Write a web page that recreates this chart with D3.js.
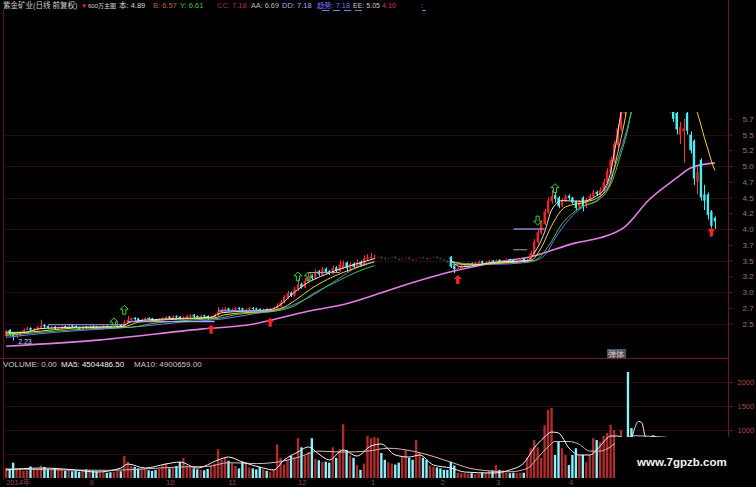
<!DOCTYPE html>
<html><head><meta charset="utf-8">
<script src="https://cdnjs.cloudflare.com/ajax/libs/d3/7.8.5/d3.min.js"></script>
<style>body{margin:0;background:#000;overflow:hidden}svg{display:block}text{font-family:'Liberation Sans','Noto Sans CJK SC',sans-serif}</style>
</head><body><svg id="c" width="756" height="487"></svg>
<script>
// ---------------- DATA ----------------
const openP=[2.30,2.40,2.34,2.29,2.31,2.35,2.40,2.43,2.39,2.40,
2.43,2.48,2.46,2.42,2.45,2.41,2.42,2.46,2.43,2.47,
2.46,2.43,2.41,2.45,2.42,2.46,2.45,2.41,2.42,2.46,
2.44,2.42,2.44,2.48,2.46,2.51,2.55,2.59,2.58,2.54,
2.55,2.59,2.58,2.56,2.53,2.55,2.57,2.61,2.58,2.62,
2.61,2.57,2.58,2.61,2.64,2.62,2.59,2.63,2.62,2.58,
2.59,2.63,2.68,2.71,2.74,2.70,2.71,2.75,2.74,2.70,
2.71,2.75,2.74,2.73,2.69,2.73,2.70,2.72,2.74,2.77,
2.83,2.91,2.99,2.94,3.04,3.13,3.07,3.17,3.25,3.21,
3.33,3.27,3.37,3.33,3.29,3.39,3.33,3.38,3.47,3.37,
3.45,3.39,3.48,3.42,3.52,3.54,3.53,3.54,3.56,3.54,
3.52,3.54,3.56,3.53,3.51,3.54,3.55,3.52,3.50,3.53,
3.55,3.54,3.52,3.55,3.56,3.54,3.52,3.50,3.56,3.42,
3.35,3.37,3.40,3.42,3.46,3.43,3.45,3.49,3.45,3.46,
3.50,3.47,3.51,3.46,3.48,3.52,3.51,3.47,3.49,3.53,
3.48,3.50,3.61,3.79,3.93,4.08,4.26,4.44,4.54,4.50,
4.37,4.45,4.53,4.50,4.44,4.34,4.50,4.37,4.46,4.52,
4.59,4.54,4.61,4.74,4.90,5.08,5.33,5.58,5.84,6.32,
6.50,6.45,6.68,6.92,7.02,7.15,7.05,6.88,6.62,6.42,
6.22,6.02,5.95,5.84,5.50,5.55,5.84,5.50,5.40,4.75,
5.10,4.55,4.55,4.28,4.18];
const highP=[2.40,2.41,2.35,2.34,2.38,2.42,2.45,2.44,2.43,2.46,
2.56,2.49,2.47,2.46,2.46,2.45,2.47,2.47,2.48,2.48,
2.47,2.45,2.46,2.46,2.47,2.47,2.46,2.45,2.47,2.47,
2.46,2.47,2.52,2.49,2.55,2.62,2.60,2.60,2.59,2.58,
2.60,2.60,2.59,2.57,2.58,2.60,2.62,2.62,2.63,2.63,
2.62,2.61,2.64,2.65,2.65,2.63,2.64,2.64,2.63,2.62,
2.66,2.76,2.75,2.76,2.75,2.74,2.76,2.76,2.75,2.74,
2.76,2.76,2.75,2.74,2.74,2.74,2.75,2.77,2.82,2.87,
2.95,3.02,3.01,3.08,3.20,3.15,3.22,3.30,3.28,3.36,
3.35,3.40,3.39,3.35,3.42,3.41,3.50,3.50,3.48,3.47,
3.47,3.52,3.50,3.58,3.60,3.62,3.59,3.57,3.57,3.56,
3.55,3.57,3.57,3.54,3.55,3.56,3.56,3.53,3.54,3.56,
3.56,3.55,3.56,3.58,3.57,3.55,3.53,3.51,3.57,3.44,
3.40,3.43,3.45,3.47,3.47,3.48,3.50,3.50,3.49,3.51,
3.51,3.52,3.52,3.51,3.53,3.53,3.52,3.52,3.54,3.54,
3.53,3.65,3.84,3.99,4.14,4.32,4.50,4.62,4.58,4.52,
4.49,4.55,4.55,4.51,4.45,4.46,4.52,4.49,4.56,4.62,
4.61,4.66,4.80,4.96,5.15,5.40,5.66,5.92,6.18,6.45,
6.60,6.80,7.00,7.10,7.18,7.18,7.10,6.90,6.70,6.50,
6.30,6.10,6.00,5.90,5.70,5.75,5.90,5.55,5.42,5.00,
5.12,4.70,4.58,4.30,4.20];
const lowP=[2.28,2.30,2.23,2.27,2.30,2.34,2.39,2.38,2.37,2.39,
2.42,2.43,2.41,2.41,2.40,2.40,2.41,2.42,2.42,2.43,
2.42,2.40,2.40,2.41,2.41,2.42,2.40,2.40,2.41,2.42,
2.41,2.41,2.43,2.44,2.45,2.50,2.53,2.55,2.53,2.53,
2.54,2.55,2.53,2.52,2.52,2.54,2.56,2.57,2.57,2.58,
2.56,2.56,2.57,2.60,2.59,2.58,2.58,2.59,2.55,2.56,
2.58,2.62,2.67,2.69,2.69,2.69,2.70,2.71,2.69,2.69,
2.70,2.71,2.70,2.68,2.68,2.69,2.68,2.71,2.72,2.76,
2.82,2.89,2.92,2.93,3.02,3.05,3.06,3.15,3.19,3.20,
3.25,3.26,3.29,3.27,3.28,3.31,3.32,3.36,3.32,3.35,
3.37,3.38,3.40,3.41,3.50,3.52,3.52,3.53,3.52,3.51,
3.51,3.53,3.52,3.50,3.50,3.53,3.51,3.49,3.49,3.52,
3.53,3.51,3.51,3.54,3.53,3.51,3.49,3.46,3.38,3.30,
3.33,3.36,3.39,3.41,3.42,3.42,3.44,3.44,3.44,3.45,
3.46,3.46,3.45,3.45,3.47,3.48,3.46,3.46,3.48,3.46,
3.46,3.49,3.60,3.77,3.91,4.06,4.24,4.40,4.42,4.33,
4.35,4.43,4.46,4.40,4.30,4.32,4.28,4.33,4.44,4.50,
4.52,4.52,4.60,4.72,4.88,5.05,5.30,5.55,5.80,6.10,
6.30,6.40,6.60,6.85,6.95,6.90,6.80,6.50,6.30,6.10,
5.95,5.85,5.70,5.50,5.35,5.05,5.50,5.20,4.70,4.55,
4.45,4.30,4.15,3.88,4.00];
const closeP=[2.38,2.33,2.30,2.32,2.36,2.40,2.42,2.40,2.41,2.44,
2.47,2.45,2.43,2.44,2.42,2.43,2.45,2.44,2.46,2.45,
2.43,2.42,2.44,2.43,2.45,2.44,2.42,2.43,2.45,2.44,
2.43,2.45,2.47,2.46,2.52,2.56,2.58,2.57,2.55,2.56,
2.58,2.57,2.55,2.54,2.56,2.58,2.60,2.59,2.61,2.60,
2.58,2.59,2.62,2.63,2.61,2.60,2.62,2.61,2.59,2.60,
2.64,2.69,2.72,2.73,2.71,2.72,2.74,2.73,2.71,2.72,
2.74,2.73,2.72,2.70,2.72,2.71,2.73,2.75,2.78,2.84,
2.92,2.98,2.95,3.05,3.12,3.08,3.18,3.24,3.22,3.32,
3.28,3.36,3.32,3.30,3.38,3.34,3.44,3.46,3.38,3.44,
3.40,3.47,3.43,3.53,3.55,3.56,3.55,3.56,3.53,3.52,
3.54,3.56,3.53,3.51,3.54,3.55,3.52,3.50,3.53,3.55,
3.54,3.52,3.55,3.56,3.54,3.52,3.50,3.47,3.40,3.36,
3.38,3.41,3.43,3.45,3.44,3.46,3.48,3.46,3.47,3.49,
3.48,3.50,3.47,3.49,3.51,3.50,3.48,3.50,3.52,3.49,
3.51,3.62,3.80,3.95,4.10,4.28,4.45,4.52,4.48,4.36,
4.46,4.52,4.49,4.42,4.33,4.44,4.36,4.47,4.53,4.58,
4.55,4.62,4.75,4.92,5.10,5.35,5.60,5.85,6.10,6.22,
6.42,6.70,6.90,7.00,7.10,7.05,6.85,6.60,6.40,6.20,
6.00,5.90,5.75,5.58,5.62,5.60,5.56,5.25,4.80,4.90,
4.50,4.45,4.22,4.05,4.12];
const volume=[210,180,320,170,200,150,160,240,190,170,
260,230,180,160,210,190,170,150,160,140,
150,130,160,180,170,150,140,120,130,110,
120,130,150,140,460,340,250,230,200,190,
180,160,150,170,190,260,310,200,230,250,
330,420,260,230,200,180,170,160,190,260,
300,600,380,420,360,310,250,200,340,330,
220,200,180,230,190,150,130,170,700,420,
280,380,460,430,830,640,470,540,830,400,
370,330,340,320,640,420,600,1120,580,470,
420,270,170,300,880,830,850,840,520,380,
330,300,280,320,440,580,420,380,790,520,
420,380,260,240,220,200,170,170,340,260,
110,100,100,90,100,80,90,110,100,150,
160,270,170,160,110,100,110,100,110,110,
420,620,790,640,420,1100,1420,1460,480,750,
620,480,270,480,620,480,480,330,480,830,
790,750,880,940,1110,1000,800,1000,850,2210,
1040,760,700,640,820,680,600,720,650,580,
700,620,760,810,600,700,720,780,820,700,
760,640,780,820,600];
// candles whose display is faded in the picture
const fadedFrom=107, fadedTo=127;
// moving-average style lines: [index, value]; null = gap
const maWhite=[[0,2.36],[5,2.36],[10,2.42],[20,2.44],[33,2.45],[36,2.53],[45,2.57],[59,2.60],[62,2.67],[76,2.72],[79,2.80],[82,2.95],[86,3.12],[92,3.28],[98,3.40],[103,3.48],[106,3.53],null,
[128,3.50],[131,3.40],[140,3.47],[150,3.50],[152,3.62],[155,3.95],[157,4.30],[160,4.45],[166,4.44],[170,4.53],[172,4.62],[174,4.90],[175,5.20],[176,5.50],[177,5.85],[178,6.10]];
const maYellow=[[0,2.33],[10,2.38],[20,2.43],[34,2.45],[38,2.52],[50,2.57],[60,2.59],[63,2.64],[77,2.71],[80,2.76],[84,2.90],[88,3.06],[94,3.24],[100,3.37],[106,3.48],null,
[128,3.49],[133,3.43],[142,3.46],[151,3.50],[154,3.70],[157,4.05],[161,4.35],[167,4.43],[171,4.52],[174,4.75],[176,5.20],[178,5.70],[179,6.00],[183,6.60],[188,6.80],[194,6.40],[197,6.10],[199,5.84],[201,5.45],[202,5.27],[203,5.08],[204,4.93]];
const maGreen=[[0,2.31],[12,2.37],[25,2.42],[36,2.44],[42,2.50],[55,2.56],[62,2.59],[66,2.64],[78,2.70],[83,2.78],[88,2.96],[95,3.16],[101,3.32],[106,3.42],null,
[128,3.48],[136,3.44],[146,3.47],[152,3.50],[156,3.72],[160,4.08],[165,4.33],[171,4.48],[174,4.70],[177,5.20],[179,5.60],[180,5.90]];
const maBlue=[[0,2.28],[14,2.36],[30,2.42],[40,2.46],[50,2.52],[62,2.57],[72,2.66],[78,2.71],[86,2.88],[94,3.15],[102,3.42],[106,3.48],null,
[128,3.44],[140,3.44],[150,3.47],[155,3.58],[158,3.85],[162,4.15],[166,4.35],[171,4.50],[175,4.95],[178,5.45],[180,5.84],[181,6.00]];
const maLong=[[0,2.14],[27,2.24],[56,2.41],[70,2.48],[85,2.67],[99,2.83],[113,3.08],[128,3.32],[142,3.48],[151,3.56],[164,3.78],[171,3.86],[178,4.03],[185,4.46],[193,4.81],[197,4.97],[204,5.05]];
// flat level segments: [fromIndex, toIndex, value]
const levelLav=[[12,34,2.48],[35,60,2.53],[61,77,2.70],[146,155,4.0]];
const levelGray=[[146,150,3.67],[87,96,3.31]];
// signal markers [index, value]
const greenUp=[[31,2.51],[34,2.71],[84,3.24],[87,3.24],[158,4.64]];
const greenDown=[[153,4.14]];
const redUp=[[59,2.40],[76,2.51],[130,3.19],[203,3.95]];
// volume averages
const volMA5=[[0,167],[10,208],[20,167],[26,125],[33,208],[35,292],[40,208],[46,292],[50,333],[55,208],[61,375],[64,437],[68,333],[74,208],[77,167],[80,375],[84,542],[87,646],[90,500],[93,375],[97,583],[101,458],[105,667],[108,708],[112,479],[116,437],[119,479],[123,271],[128,208],[132,125],[140,104],[145,167],[149,312],[152,625],[155,854],[157,958],[159,938],[162,625],[165,479],[168,479],[170,583],[172,750],[174,875],[176,875],[178,833],[180,850],[181,1050],[182,1180],[183,1150],[184,850],[185,780],[186,880],[187,860],[188,760],[190,700]];
const volMA10=[[0,190],[15,170],[30,160],[40,190],[50,230],[58,240],[64,320],[72,300],[78,330],[84,430],[90,560],[97,540],[104,560],[110,620],[117,560],[122,470],[128,330],[135,180],[145,130],[150,200],[153,420],[156,650],[158,760],[162,760],[165,700],[168,560],[171,560],[174,650],[176,760],[178,830],[181,880],[185,870],[190,850]];
// axes
const tickIdx=[0,24,46,64,84,105,125,141,162];
const tickLabels=["2014年","9","10","11","12","1","2","3","4"];
const priceTicks=[5.75,5.5,5.25,5.0,4.75,4.5,4.25,4.0,3.75,3.5,3.25,3.0,2.75,2.5];
const priceTickLabels=["5.7","5.5","5.2","5.0","4.7","4.5","4.2","4.0","3.7","3.5","3.2","3.0","2.7","2.5"];
const priceGrid=[5.5,5.0,4.5,4.0,3.5,3.0,2.5];
const volTicks=[2000,1500,1000];
const volGrid=[2000,1500,1000,500];
const lowLabel="2.23";
const headerTexts=["紫金矿业(日线 前复权)","▼","600万主图","本: 4.89","B: 6.57","Y: 6.61","CC: 7.18","AA: 6.69","DD: 7.18","趋势: 7.18","EE: 5.05","4.10",":"];
const volHeader=["VOLUME: 0.00","MA5: 4504486.50","MA10: 4900659.00"];

// ---------------- DRAW ----------------
const N=closeP.length;
const svg=d3.select("#c");
svg.append("rect").attr("width",756).attr("height",487).attr("fill","#000");
const x=d3.scaleBand().domain(d3.range(N)).range([5,716]).paddingInner(0.32);
const xc=i=>x(i)+x.bandwidth()/2;
const yP=d3.scaleLinear().domain([2.5,5.0]).range([323.5,166]);
const yV=d3.scaleLinear().domain([0,1000]).range([478,430]);
const AX=728.5;
const gridC="#2c0909", axC="#6e1616";

const defs=svg.append("defs");
defs.append("clipPath").attr("id","cp").append("rect").attr("x",4).attr("y",112).attr("width",724).attr("height",246);
defs.append("clipPath").attr("id","cv").append("rect").attr("x",4).attr("y",359).attr("width",724).attr("height",121);

// grids
svg.append("g").selectAll("line").data(priceGrid).join("line")
  .attr("x1",4).attr("x2",AX).attr("y1",d=>Math.round(yP(d))+0.5).attr("y2",d=>Math.round(yP(d))+0.5)
  .attr("stroke",gridC);
svg.append("g").selectAll("line").data(volGrid).join("line")
  .attr("x1",4).attr("x2",AX).attr("y1",d=>Math.round(yV(d))+0.5).attr("y2",d=>Math.round(yV(d))+0.5)
  .attr("stroke",gridC);
// frame lines
svg.append("line").attr("x1",3.5).attr("x2",3.5).attr("y1",9).attr("y2",480).attr("stroke","#5e1212");
svg.append("line").attr("x1",0).attr("x2",AX).attr("y1",358.5).attr("y2",358.5).attr("stroke","#7a1818");
svg.append("line").attr("x1",AX).attr("x2",AX).attr("y1",0).attr("y2",480).attr("stroke",axC);

// price panel
const gp=svg.append("g").attr("clip-path","url(#cp)");
const line=d3.line().defined(d=>d!==null).x(d=>xc(d[0])).y(d=>yP(d[1])).curve(d3.curveMonotoneX);
gp.append("path").attr("d",line(maLong)).attr("fill","none").attr("stroke","#e47ee4").attr("stroke-width",1.6);

const candles=gp.append("g").selectAll("g").data(d3.range(N)).join("g")
  .attr("opacity",i=>(i>=fadedFrom&&i<=fadedTo)?0.28:1);
const up=i=>closeP[i]>=openP[i];
candles.append("line").attr("x1",i=>Math.round(xc(i))+0.5).attr("x2",i=>Math.round(xc(i))+0.5)
  .attr("y1",i=>yP(highP[i])).attr("y2",i=>yP(lowP[i]))
  .attr("stroke",i=>up(i)?"#ff3434":"#46eef2");
candles.append("rect").attr("x",i=>x(i)).attr("width",x.bandwidth())
  .attr("y",i=>yP(Math.max(openP[i],closeP[i])))
  .attr("height",i=>Math.max(1,Math.abs(yP(openP[i])-yP(closeP[i]))))
  .attr("fill",i=>up(i)?"#e82424":"#46eef2");

[[maBlue,"#7474ff"],[maGreen,"#38cc38"],[maYellow,"#f0d23a"],[maWhite,"#e6e6e6"]].forEach(([d,c])=>{
  gp.append("path").attr("d",line(d)).attr("fill","none").attr("stroke",c).attr("stroke-width",1);
});
gp.append("g").selectAll("line").data(levelLav).join("line")
  .attr("x1",d=>xc(d[0])).attr("x2",d=>xc(d[1])).attr("y1",d=>yP(d[2])).attr("y2",d=>yP(d[2]))
  .attr("stroke","#a4a4ff").attr("stroke-width",1.2);
gp.append("g").selectAll("line").data(levelGray).join("line")
  .attr("x1",d=>xc(d[0])).attr("x2",d=>xc(d[1])).attr("y1",d=>yP(d[2])).attr("y2",d=>yP(d[2]))
  .attr("stroke","#a8a8a8").attr("stroke-width",1);

const arrow="M0,-5L4,-1L1.6,-1L1.6,4L-1.6,4L-1.6,-1L-4,-1Z";
gp.append("g").selectAll("path").data(greenUp).join("path").attr("d",arrow)
  .attr("transform",d=>`translate(${xc(d[0])},${yP(d[1])})`).attr("fill","none").attr("stroke","#3cd03c").attr("stroke-width",1);
gp.append("g").selectAll("path").data(greenDown).join("path").attr("d",arrow)
  .attr("transform",d=>`translate(${xc(d[0])},${yP(d[1])}) rotate(180)`).attr("fill","none").attr("stroke","#3cd03c").attr("stroke-width",1);
gp.append("g").selectAll("path").data(redUp).join("path").attr("d",arrow)
  .attr("transform",d=>`translate(${xc(d[0])},${yP(d[1])})`).attr("fill","#ff2424");
gp.append("text").attr("x",xc(2)+5).attr("y",yP(2.23)+3).attr("font-size",7).attr("fill","#c8d6ff").text(lowLabel);

// price axis
const ayP=svg.append("g").attr("transform",`translate(${AX},0)`)
  .call(d3.axisRight(yP).tickValues(priceTicks).tickSize(4).tickPadding(10).tickFormat((d,i)=>priceTickLabels[i]));
ayP.select(".domain").remove();
ayP.selectAll("line").attr("stroke",axC);
ayP.selectAll("text").attr("fill","#a07272").attr("font-size",8).attr("font-family","'Liberation Sans',sans-serif");

// volume panel
const gv=svg.append("g").attr("clip-path","url(#cv)");
gv.selectAll("rect").data(d3.range(N)).join("rect")
  .attr("x",i=>x(i)).attr("width",x.bandwidth())
  .attr("y",i=>yV(volume[i])).attr("height",i=>yV(0)-yV(volume[i]))
  .attr("fill",i=>up(i)?"#b02c2c":"#8af2ff");
const vline=d3.line().x(d=>xc(d[0])).y(d=>yV(d[1])).curve(d3.curveMonotoneX);
gv.append("path").attr("d",vline(volMA10)).attr("fill","none").attr("stroke","#d8b8b8").attr("stroke-width",1);
gv.append("path").attr("d",vline(volMA5)).attr("fill","none").attr("stroke","#f4f4f4").attr("stroke-width",1);

const ayV=svg.append("g").attr("transform",`translate(${AX},0)`)
  .call(d3.axisRight(yV).tickValues(volTicks).tickSize(4).tickPadding(5).tickFormat(d3.format("d")));
ayV.select(".domain").remove();
ayV.selectAll("line").attr("stroke",axC);
ayV.selectAll("text").attr("fill","#a84a4a").attr("font-size",7.5).attr("font-family","'Liberation Sans',sans-serif");

// x axis
const axX=svg.append("g").attr("transform","translate(0,477)")
  .call(d3.axisBottom(x).tickValues(tickIdx).tickSize(0).tickPadding(3).tickFormat((d,i)=>tickLabels[i]));
axX.select(".domain").remove();
axX.selectAll("text").attr("fill","#8e4c4c").attr("font-size",7.5).attr("text-anchor","start")
  .attr("font-family","'Liberation Sans','Noto Sans CJK SC',sans-serif");

// fit a text's natural width into a slot by shrinking its font size
function fitText(sel, maxSize){
  sel.each(function(){
    const w=+this.getAttribute("data-w");
    const len=this.getComputedTextLength();
    if(len>w) this.setAttribute("font-size",(maxSize*w/len).toFixed(2));
  });
}
// header (x, slot width, colour for each text)
const hLayout=[[3,75,"#cfcfcf"],[81,6,"#ff2a2a"],[88,28,"#d8d8d8"],[119,30,"#d8d8d8"],[153,24,"#b8683a"],
 [180,25,"#44c044"],[217,31,"#b03050"],[251,28,"#b8b8b8"],[282,31,"#a8a8e8"],[317,33,"#7474ff"],
 [353,27,"#cccccc"],[382,14,"#d83070"],[421,3,"#9a9a9a"]];
const ht=svg.append("g").selectAll("text").data(headerTexts).join("text")
  .attr("x",(d,i)=>hLayout[i][0]).attr("y",8).attr("font-size",7.5)
  .attr("fill",(d,i)=>hLayout[i][2]).attr("data-w",(d,i)=>hLayout[i][1])
  .text(d=>d);
fitText(ht,7.5);
svg.append("line").attr("x1",322).attr("x2",364).attr("y1",10.5).attr("y2",10.5)
  .attr("stroke","#8080d8").attr("stroke-dasharray","7,4");
svg.append("line").attr("x1",422).attr("x2",426).attr("y1",10.5).attr("y2",10.5).attr("stroke","#8080d8");

// volume header
const vhLayout=[[3,55,"#d0d0d0"],[61,70,"#eeeeee"],[134,80,"#d8c0c0"]];
const vt=svg.append("g").selectAll("text").data(volHeader).join("text")
  .attr("x",(d,i)=>vhLayout[i][0]).attr("y",367).attr("font-size",8)
  .attr("fill",(d,i)=>vhLayout[i][2]).attr("data-w",(d,i)=>vhLayout[i][1])
  .text(d=>d);
fitText(vt,8);

// small tag
svg.append("rect").attr("x",607).attr("y",349).attr("width",19).attr("height",9).attr("fill","#3c5864");
svg.append("text").attr("x",608).attr("y",356.5).attr("font-size",8).attr("fill","#f2b4b4").text("弹体");

// watermark
svg.append("rect").attr("x",615).attr("y",437).attr("width",141).attr("height",50).attr("fill","#000");
svg.append("text").attr("x",637).attr("y",466).attr("font-size",11.5).attr("font-weight","bold")
  .attr("fill","#f4f4f4").attr("font-family","'Liberation Sans',Arial,sans-serif").text("www.7gpzb.com");
</script></body></html>
